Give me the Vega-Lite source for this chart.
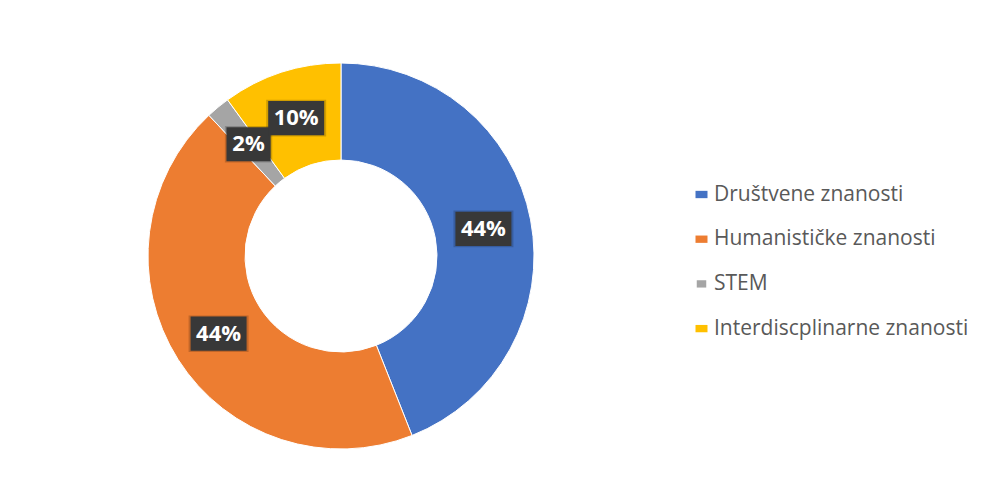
{
  "$schema": "https://vega.github.io/schema/vega-lite/v6.json",
  "width": 400,
  "height": 400,
  "autosize": "none",
  "padding": {"left": 141, "top": 56, "right": 442, "bottom": 48},
  "background": "white",
  "config": {"view": {"stroke": null}},
  "data": {
    "values": [
      {"k": 1, "cat": "Društvene znanosti", "share": 0.44},
      {"k": 2, "cat": "Humanističke znanosti", "share": 0.44},
      {"k": 3, "cat": "STEM", "share": 0.02},
      {"k": 4, "cat": "Interdiscplinarne znanosti", "share": 0.10}
    ]
  },
  "transform": [
    {"window": [{"op": "sum", "field": "share", "as": "cum"}], "sort": [{"field": "k"}], "frame": [null, 0]},
    {"calculate": "2*PI*(datum.cum - datum.share/2)", "as": "ang"},
    {"calculate": "145*sin(datum.ang)", "as": "lx"},
    {"calculate": "145*cos(datum.ang)", "as": "ly"}
  ],
  "layer": [
    {
      "mark": {"type": "arc", "outerRadius": 193, "innerRadius": 96, "stroke": "#ffffff", "strokeWidth": 1},
      "encoding": {
        "theta": {"field": "share", "type": "quantitative", "stack": true},
        "order": {"field": "k", "type": "quantitative"},
        "color": {
          "field": "cat",
          "type": "nominal",
          "scale": {
            "domain": ["Društvene znanosti", "Humanističke znanosti", "STEM", "Interdiscplinarne znanosti"],
            "range": ["#4472C4", "#ED7D31", "#A5A5A5", "#FFC000"]
          },
          "legend": {
            "orient": "none",
            "legendX": 550,
            "legendY": 128,
            "title": null,
            "padding": 0,
            "symbolType": "square",
            "symbolSize": 144,
            "symbolStrokeWidth": 0,
            "labelFont": "Open Sans",
            "labelFontSize": 21,
            "labelColor": "#595959",
            "labelOffset": 2,
            "rowPadding": 22.7,
            "labelLimit": 400
          }
        }
      }
    },
    {
      "mark": {"type": "point", "filled": true, "color": "#000000", "opacity": 0.18, "size": 3600},
      "encoding": {
        "x": {"field": "lx", "type": "quantitative", "scale": {"domain": [-200, 200]}, "axis": null},
        "y": {"field": "ly", "type": "quantitative", "scale": {"domain": [-200, 200]}, "axis": null},
        "shape": {
          "field": "cat",
          "type": "nominal",
          "scale": {
            "domain": ["Društvene znanosti", "Humanističke znanosti", "STEM", "Interdiscplinarne znanosti"],
            "range": ["M-1,-0.61H1V0.61H-1Z", "M-1,-0.61H1V0.61H-1Z", "M-0.79,-0.61H0.79V0.61H-0.79Z", "M-1,-0.61H1V0.61H-1Z"]
          },
          "legend": null
        }
      }
    },
    {
      "mark": {"type": "point", "filled": true, "color": "#383838", "opacity": 1, "size": 3136},
      "encoding": {
        "x": {"field": "lx", "type": "quantitative", "scale": {"domain": [-200, 200]}, "axis": null},
        "y": {"field": "ly", "type": "quantitative", "scale": {"domain": [-200, 200]}, "axis": null},
        "shape": {
          "field": "cat",
          "type": "nominal",
          "scale": {
            "domain": ["Društvene znanosti", "Humanističke znanosti", "STEM", "Interdiscplinarne znanosti"],
            "range": ["M-1,-0.61H1V0.61H-1Z", "M-1,-0.61H1V0.61H-1Z", "M-0.79,-0.61H0.79V0.61H-0.79Z", "M-1,-0.61H1V0.61H-1Z"]
          },
          "legend": null
        }
      }
    },
    {
      "mark": {"type": "text", "color": "#ffffff", "font": "Open Sans", "fontWeight": "bold", "fontSize": 22, "align": "center", "baseline": "middle"},
      "encoding": {
        "x": {"field": "lx", "type": "quantitative", "scale": {"domain": [-200, 200]}, "axis": null},
        "y": {"field": "ly", "type": "quantitative", "scale": {"domain": [-200, 200]}, "axis": null},
        "text": {"field": "share", "type": "quantitative", "format": ".0%"}
      }
    }
  ]
}
